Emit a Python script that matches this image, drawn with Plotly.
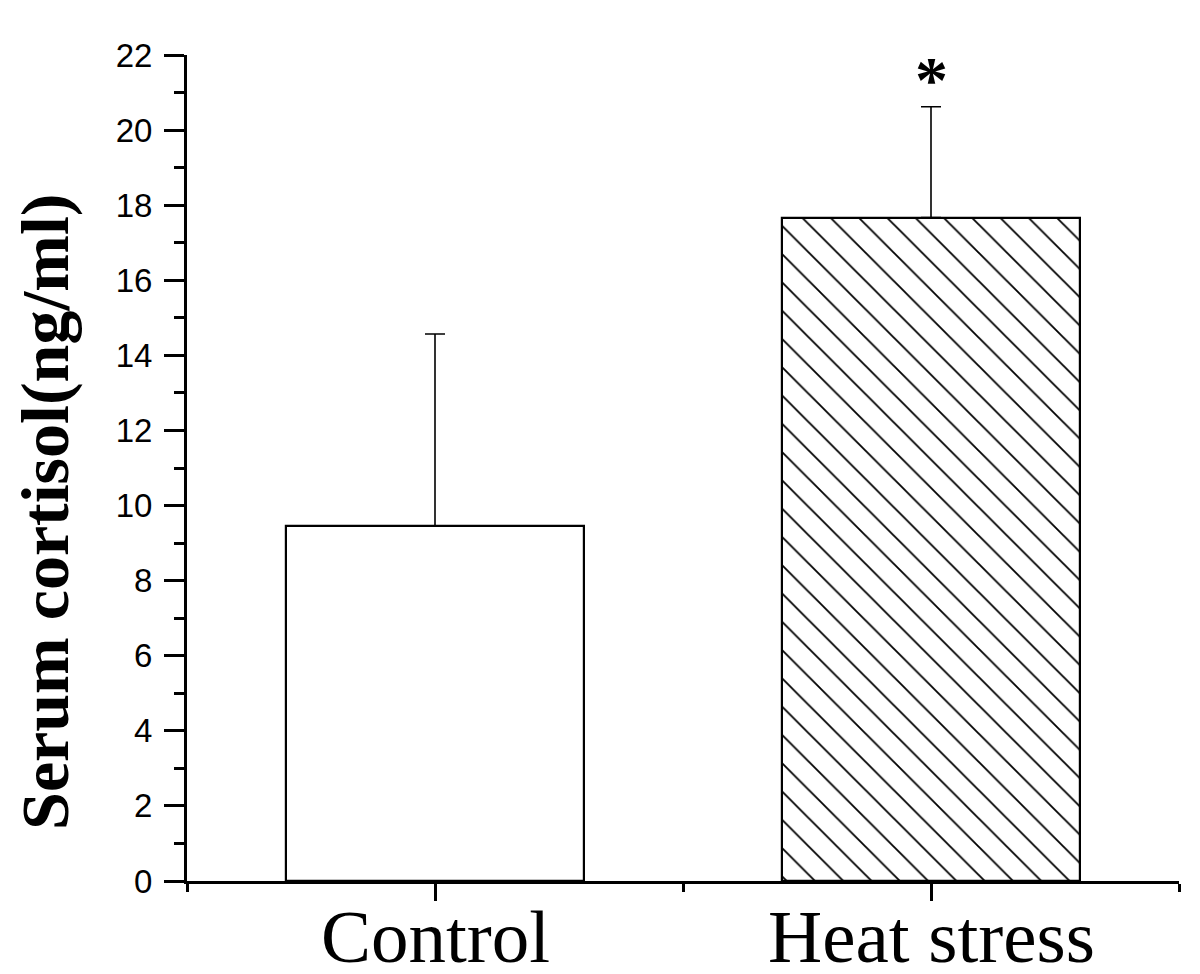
import plotly.graph_objects as go

categories = ["Control", "Heat stress"]
positions = [1, 2]
means = [9.45, 17.67]
errors_up = [5.12, 2.95]
significance = ["", "*"]
y_title = "Serum cortisol(ng/ml)"

fig = go.Figure()

fig.add_trace(go.Bar(
    x=[positions[0]], y=[means[0]], width=0.6,
    marker=dict(color="white", line=dict(color="black", width=2.2)),
    error_y=dict(type="data", array=[errors_up[0]], arrayminus=[0], symmetric=False,
                 color="black", thickness=1.6, width=10),
    showlegend=False,
))
fig.add_trace(go.Bar(
    x=[positions[1]], y=[means[1]], width=0.6,
    marker=dict(color="white", line=dict(color="black", width=2.2),
                pattern=dict(shape="\\", size=20, solidity=0.09, fgcolor="black", bgcolor="white", fgopacity=1)),
    error_y=dict(type="data", array=[errors_up[1]], arrayminus=[0], symmetric=False,
                 color="black", thickness=1.6, width=10),
    showlegend=False,
))

for p, m, e, s in zip(positions, means, errors_up, significance):
    if s:
        fig.add_annotation(x=p, y=m + e, text="<b>" + s + "</b>", showarrow=False, yanchor="bottom",
                           yshift=-11, font=dict(family="Liberation Serif", size=66, color="black"))

# category labels
for p, c in zip(positions, categories):
    fig.add_annotation(x=p, xref="x", y=0, yref="paper", text=c, showarrow=False,
                       xanchor="center", yanchor="top", yshift=-12, height=70, valign="top",
                       font=dict(family="Liberation Serif", size=75, color="black"))

fig.add_annotation(xref="paper", yref="paper", x=-0.143, y=0.447, text="<b>" + y_title + "</b>",
                   textangle=-90, showarrow=False, xanchor="center", yanchor="middle",
                   font=dict(family="Liberation Serif", size=68, color="black"))

fig.update_layout(
    width=1192, height=966,
    margin=dict(l=179, r=21, t=47, b=93),
    plot_bgcolor="white", paper_bgcolor="white",
    bargap=0,
)

fig.update_xaxes(
    range=[0.5, 2.5], tickmode="array", tickvals=positions, ticktext=["", ""],
    showticklabels=False, automargin=False,
    showline=True, linecolor="black", linewidth=3, showgrid=False, zeroline=False,
    ticks="outside", ticklen=17, tickwidth=2.5, tickcolor="black",
    minor=dict(tickmode="linear", tick0=0.5, dtick=1, ticks="outside", ticklen=8, tickwidth=2.5, tickcolor="black"),
)
fig.update_yaxes(
    range=[0, 22], tickmode="linear", tick0=0, dtick=2,
    automargin=False,
    showline=True, linecolor="black", linewidth=3, showgrid=False, zeroline=False,
    ticks="outside", ticklen=20, tickwidth=2.5, tickcolor="black", ticklabelstandoff=5,
    minor=dict(tickmode="linear", tick0=0, dtick=1, ticks="outside", ticklen=10, tickwidth=2.5, tickcolor="black"),
    tickfont=dict(family="Liberation Sans", size=33, color="black"),
)

fig.write_html("out.html")
